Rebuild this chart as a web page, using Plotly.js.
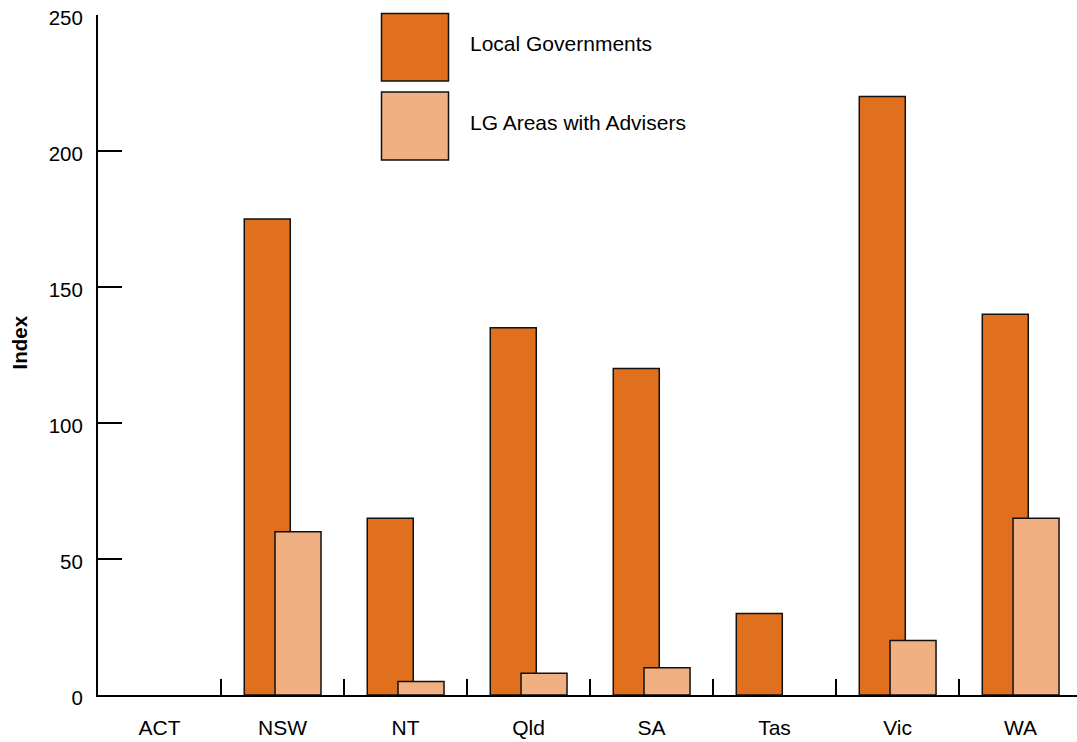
<!DOCTYPE html>
<html>
<head>
<meta charset="utf-8">
<script src="https://cdn.plot.ly/plotly-3.0.1.min.js"></script>
<style>
  html, body { margin: 0; padding: 0; background: #fff; }
  #chart { width: 1077px; height: 742px; }
</style>
</head>
<body>
<div id="chart"></div>
<script>
// States and territories
const states = ["ACT", "NSW", "NT", "Qld", "SA", "Tas", "Vic", "WA"];
// Number of local governments per state
const localGovernments = [0, 175, 65, 135, 120, 30, 220, 140];
// Local government areas that have advisers
const areasWithAdvisers = [0, 60, 5, 8, 10, 0, 20, 65];
const seriesNames = ["Local Governments", "LG Areas with Advisers"];
const seriesColors = ["#e0701e", "#f0b081"];

const FONT = "Liberation Sans, Arial, sans-serif";

// Empty bars get no outline so the baseline stays clean
const outline = vals => ({ color: "#111", width: vals.map(v => (v ? 1.5 : 0)) });

const traces = [
  {
    type: "bar",
    name: seriesNames[0],
    x: states,
    y: localGovernments,
    offset: -0.311,
    width: 0.374,
    marker: { color: seriesColors[0], line: outline(localGovernments) },
    showlegend: false,
    hoverinfo: "x+y"
  },
  {
    type: "bar",
    name: seriesNames[1],
    x: states,
    y: areasWithAdvisers,
    offset: -0.061,
    width: 0.374,
    marker: { color: seriesColors[1], line: outline(areasWithAdvisers) },
    showlegend: false,
    hoverinfo: "x+y"
  }
];

// Plot area geometry in pixels, used to place the key and the axis title
const L = 98, R = 0, T = 15, B = 47, W = 1077, H = 742;
const pw = W - L - R, ph = H - T - B;
const px = v => (v - L) / pw;
const py = v => (H - B - v) / ph;

const keyBoxes = [
  { x0: 381.5, x1: 448.5, y0: 13.5, y1: 81 },
  { x0: 381.5, x1: 448.5, y0: 92, y1: 160 }
];

const shapes = keyBoxes.map((b, i) => ({
  type: "rect", xref: "paper", yref: "paper",
  x0: px(b.x0), x1: px(b.x1), y0: py(b.y1), y1: py(b.y0),
  fillcolor: seriesColors[i],
  line: { color: "#111", width: 1.5 }
}));

const annotations = keyBoxes.map((b, i) => ({
  xref: "paper", yref: "paper",
  x: px(468), y: py((b.y0 + b.y1) / 2 - 3.5),
  xanchor: "left", yanchor: "middle",
  text: seriesNames[i], showarrow: false,
  font: { family: FONT, size: 21, color: "#000" }
}));

// Vertical axis title
annotations.push({
  xref: "paper", yref: "paper",
  x: px(19.5), y: py(343),
  xanchor: "center", yanchor: "middle",
  text: "<b>Index</b>", textangle: -90, showarrow: false,
  font: { family: FONT, size: 20.5, color: "#000" }
});

const layout = {
  width: W, height: H,
  margin: { l: L, r: R, t: T, b: B, pad: 0 },
  paper_bgcolor: "#fff",
  plot_bgcolor: "#fff",
  barmode: "overlay",
  showlegend: false,
  font: { family: FONT, size: 20.5, color: "#000" },
  xaxis: {
    type: "category",
    range: [-0.5, 7.459],
    tickson: "boundaries",
    ticks: "inside",
    ticklen: 16,
    tickwidth: 2,
    tickcolor: "#000",
    showline: true,
    linecolor: "#000",
    linewidth: 2,
    showgrid: false,
    zeroline: false,
    ticklabelstandoff: 13,
    tickfont: { family: FONT, size: 21, color: "#000" }
  },
  yaxis: {
    range: [0, 250],
    tickmode: "linear",
    tick0: 0,
    dtick: 50,
    ticks: "inside",
    ticklen: 24,
    tickwidth: 2,
    tickcolor: "#000",
    showline: true,
    linecolor: "#000",
    linewidth: 2,
    showgrid: false,
    zeroline: false,
    ticklabelstandoff: 9,
    ticklabelshift: 3,
    tickfont: { family: FONT, size: 20.5, color: "#000" }
  },
  shapes: shapes,
  annotations: annotations
};

Plotly.newPlot("chart", traces, layout, { displayModeBar: false, staticPlot: true });
</script>
</body>
</html>
